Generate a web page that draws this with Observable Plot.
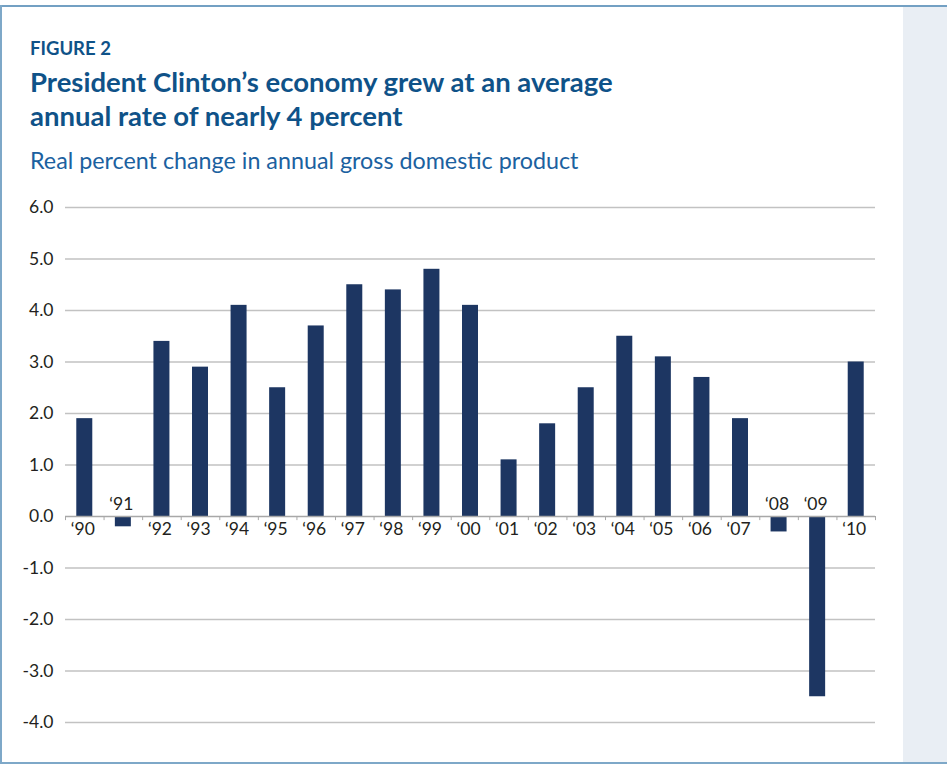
<!DOCTYPE html>
<html>
<head>
<meta charset="utf-8">
<script src="https://cdn.jsdelivr.net/npm/d3@7"></script>
<script src="https://cdn.jsdelivr.net/npm/@observablehq/plot@0.6"></script>
<style>
  html, body { margin: 0; padding: 0; background: #fff; }
  #frame { position: relative; width: 947px; height: 764px; background: #fff; overflow: hidden; font-family: Lato, "Open Sans", sans-serif; }
  .abs { position: absolute; white-space: nowrap; }
  #topb { left: 0; top: 5px; width: 947px; height: 2px; background: #73a0c3; }
  #leftb { left: 0; top: 5px; width: 2px; height: 759px; background: #7ea8c8; }
  #botb { left: 0; top: 762px; width: 947px; height: 2px; background: #7ea8c8; }
  #panel { left: 903px; top: 7px; width: 44px; height: 755px; background: #e9eef4; }
  #fig { left: 30px; top: 39px; font-size: 18.5px; line-height: 18.5px; font-weight: 700; color: #0f5288; }
  #title { left: 30px; top: 65px; font-size: 27.5px; line-height: 34px; font-weight: 700; color: #0f5288; }
  #sub { left: 30px; top: 149px; font-size: 23.3px; line-height: 23.3px; color: #1b61a0; }
  #chart { left: 0; top: 185px; }
</style>
</head>
<body>
<div id="frame">
  <div class="abs" id="panel"></div>
  <div class="abs" id="topb"></div>
  <div class="abs" id="leftb"></div>
  <div class="abs" id="botb"></div>
  <div class="abs" id="fig">FIGURE 2</div>
  <div class="abs" id="title">President Clinton’s economy grew at an average<br>annual rate of nearly 4 percent</div>
  <div class="abs" id="sub">Real percent change in annual gross domestic product</div>
  <div class="abs" id="chart"></div>
</div>
<script>
const years = ["‘90","‘91","‘92","‘93","‘94","‘95","‘96","‘97","‘98","‘99","‘00","‘01","‘02","‘03","‘04","‘05","‘06","‘07","‘08","‘09","‘10"];
const growth = [1.9,-0.2,3.4,2.9,4.1,2.5,3.7,4.5,4.4,4.8,4.1,1.1,1.8,2.5,3.5,3.1,2.7,1.9,-0.3,-3.5,3.0];
const yTicks = [-4,-3,-2,-1,0,1,2,3,4,5,6];

const data = years.map((y, i) => ({year: y, value: growth[i]}));

const W = 903, H = 560, mL = 65, mR = 28, mT = 22, mB = 23;
const bw = (W - mL - mR) / years.length;
const inset = (bw - 16) / 2;

const chart = Plot.plot({
  width: W,
  height: H,
  marginLeft: mL,
  marginRight: mR,
  marginTop: mT,
  marginBottom: mB,
  style: {fontFamily: "Lato, 'Open Sans', sans-serif", background: "transparent", overflow: "visible"},
  x: {domain: years, padding: 0, round: false, axis: null},
  y: {domain: [-4, 6], axis: null},
  marks: [
    Plot.ruleY(yTicks.filter(d => d !== 0), {stroke: "#c2c2c2", strokeWidth: 1.5}),
    Plot.axisY(yTicks, {tickSize: 0, tickPadding: 12, tickFormat: d => d.toFixed(1), fontSize: 17.5, fill: "#231f20", color: "#231f20", label: null}),
    Plot.barY(data, {x: "year", y: "value", fill: "#1d3662", insetLeft: inset, insetRight: inset}),
    Plot.ruleY([0], {stroke: "#a8a8a8", strokeWidth: 1.5}),
    Plot.ruleX(years, {x: d => d, dx: -bw / 2, y1: 0, y2: -0.08, stroke: "#a8a8a8", strokeWidth: 1}),
    Plot.ruleX(years.slice(-1), {x: d => d, dx: bw / 2, y1: 0, y2: -0.08, stroke: "#a8a8a8", strokeWidth: 1}),
    Plot.text(data.filter(d => d.value >= 0), {x: "year", y: 0, text: "year", dy: 13, dx: -2, fontSize: 17.5, fill: "#231f20"}),
    Plot.text(data.filter(d => d.value < 0), {x: "year", y: 0, text: "year", dy: -12, dx: -2, fontSize: 17.5, fill: "#231f20"})
  ]
});
document.getElementById("chart").appendChild(chart);
</script>
</body>
</html>
